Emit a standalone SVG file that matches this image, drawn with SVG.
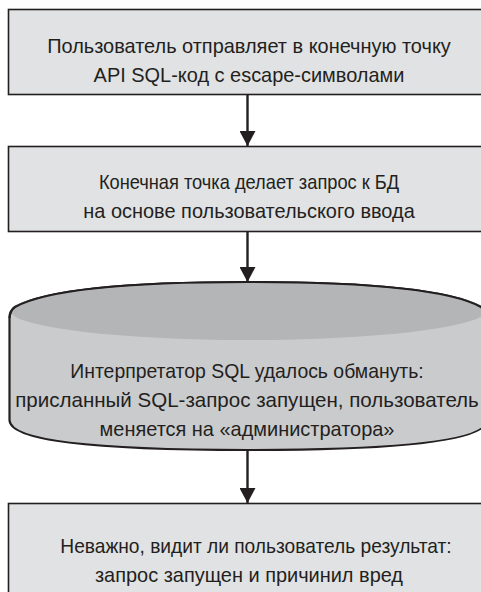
<svg xmlns="http://www.w3.org/2000/svg" width="481" height="592" viewBox="0 0 481 592">
<defs>
<style>
.box{fill:#e1e2e3;stroke:#231f20;stroke-width:1.6}
.t{font-family:"Liberation Sans",Arial,sans-serif;font-size:21px;fill:#231f20;text-anchor:middle}
.ln{stroke:#231f20;stroke-width:2.4;fill:none}
.cylbody{fill:#cacbcd;stroke:#231f20;stroke-width:2.2}
.cyltop{fill:#b4b5b7;stroke:none}
</style>
<marker id="ah" markerWidth="17" markerHeight="16" refX="16" refY="8.5" orient="auto" markerUnits="userSpaceOnUse" viewBox="0 0 16 17">
<path d="M0,0 L16,8.5 L0,17 Z" fill="#231f20"/>
</marker>
</defs>
<rect width="481" height="592" fill="#ffffff"/>
<g id="connectors">
<line class="ln" x1="247.5" y1="95" x2="247.5" y2="146" marker-end="url(#ah)"/>
<line class="ln" x1="247.5" y1="232" x2="247.5" y2="282" marker-end="url(#ah)"/>
<line class="ln" x1="247.5" y1="450" x2="247.5" y2="503" marker-end="url(#ah)"/>
</g>
<g id="node1">
<rect class="box" x="8.5" y="9.5" width="480" height="85"/>
<g transform="translate(249,0) scale(0.95,1)">
<text class="t" x="0" y="53">Пользователь отправляет в конечную точку</text>
<text class="t" x="0" y="82">API SQL-код с escape-символами</text>
</g>
</g>
<g id="node2">
<rect class="box" x="8.5" y="146.5" width="480" height="85"/>
<g transform="translate(249,0) scale(0.95,1)">
<text class="t" x="0" y="189" textLength="316" lengthAdjust="spacingAndGlyphs">Конечная точка делает запрос к БД</text>
<text class="t" x="0" y="218">на основе пользовательского ввода</text>
</g>
</g>
<g id="node3">
<path class="cylbody" d="M9.5,318 Q9.5,311 15,307 Q60,282 248,282 Q436,282 481,307 Q487,311 487,318 L487,420 Q487,450 248,450 Q9.5,450 9.5,420 Z"/>
<ellipse class="cyltop" cx="248" cy="311" rx="237" ry="29"/>
<path d="M9.5,318 Q9.5,311 15,307 Q60,282 248,282 Q436,282 481,307 Q487,311 487,318" fill="none" stroke="#231f20" stroke-width="2.2"/>
<g transform="translate(247,0) scale(0.95,1)">
<text class="t" x="0" y="378" textLength="372" lengthAdjust="spacingAndGlyphs">Интерпретатор SQL удалось обмануть:</text>
<text class="t" x="0" y="407" textLength="488" lengthAdjust="spacingAndGlyphs">присланный SQL-запрос запущен, пользователь</text>
<text class="t" x="0" y="436">меняется на «администратора»</text>
</g>
</g>
<g id="node4">
<rect class="box" x="8.5" y="503.5" width="480" height="100"/>
<g transform="translate(256,0) scale(0.95,1)">
<text class="t" x="0" y="553" textLength="412" lengthAdjust="spacingAndGlyphs">Неважно, видит ли пользователь результат:</text>
</g>
<g transform="translate(249,0) scale(0.95,1)">
<text class="t" x="0" y="582">запрос запущен и причинил вред</text>
</g>
</g>
</svg>
